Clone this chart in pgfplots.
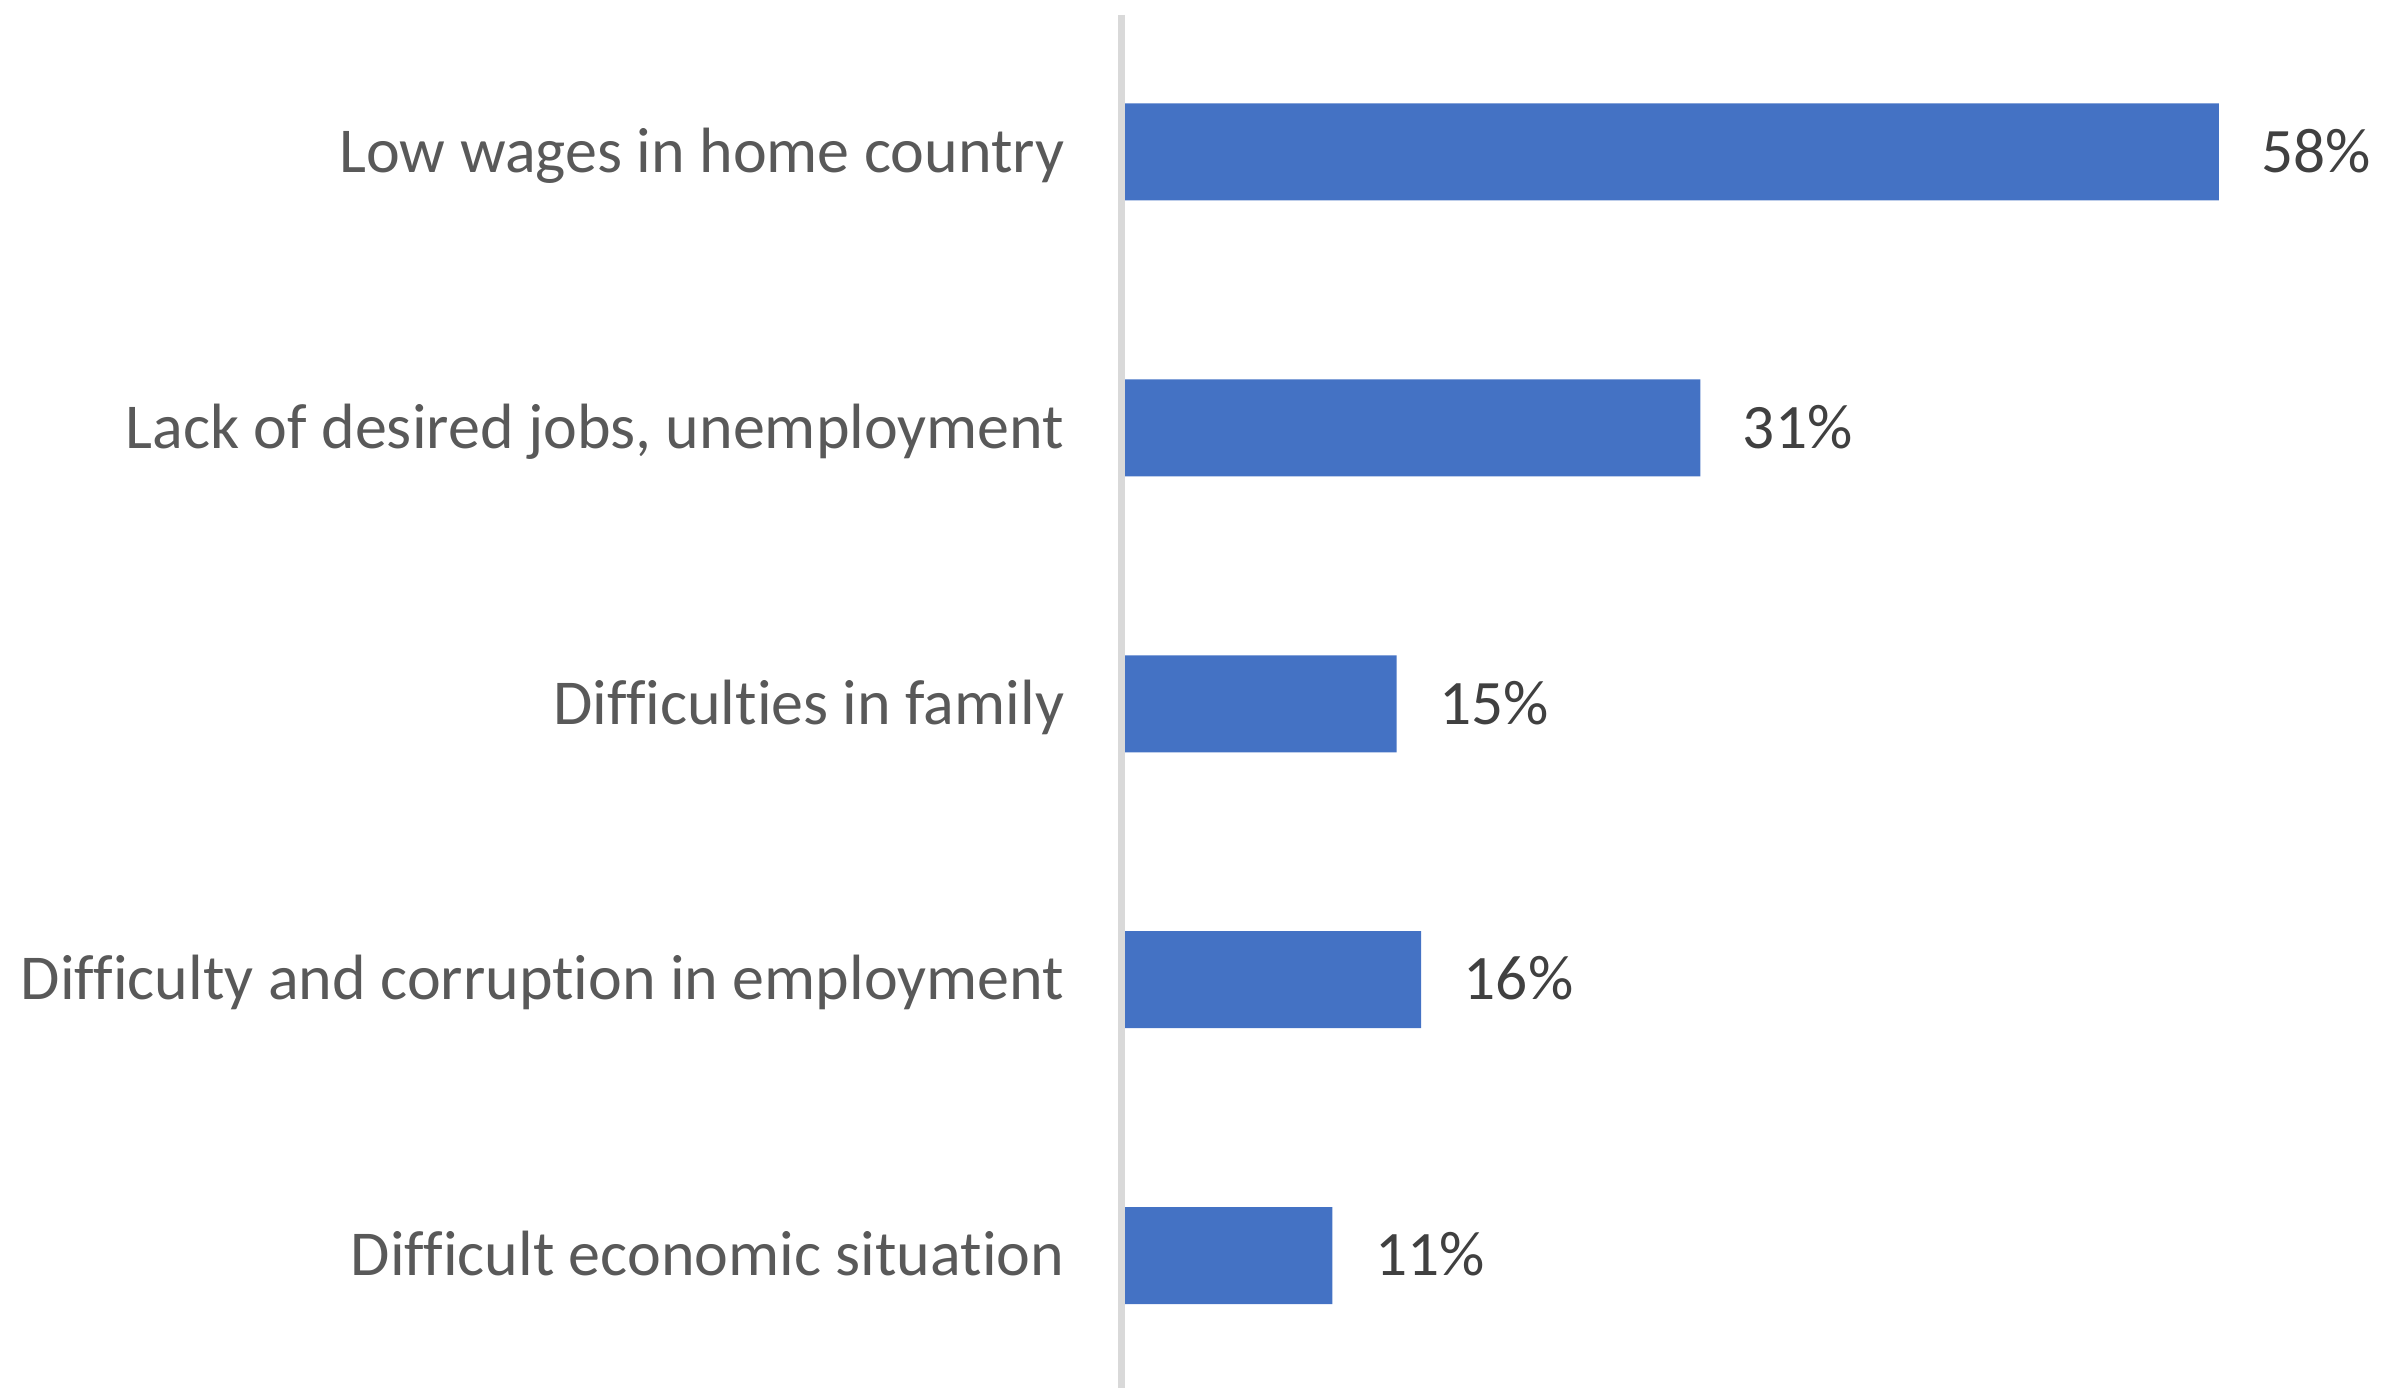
\documentclass[border=0pt]{standalone}
\usepackage{pgfplots}
\pgfplotsset{compat=1.18}
\usepackage{fontspec}
\setmainfont[Ligatures=NoCommon]{Carlito}
\definecolor{barblue}{HTML}{4472C4}
\definecolor{axisgray}{HTML}{D9D9D9}
\definecolor{labgray}{HTML}{595959}
\definecolor{numgray}{HTML}{404040}
\begin{document}
\begin{tikzpicture}
\useasboundingbox (0,0) rectangle (716.7pt,416.4pt);
\begin{axis}[
  at={(337.5pt,0pt)}, anchor=south west,
  scale only axis, width=339.5pt, height=412.2pt,
  xmin=0, xmax=60, ymin=-0.5, ymax=4.48,
  y dir=reverse,
  clip=false,
  axis x line=none,
  axis y line*=left,
  y axis line style={draw=none},
  major tick length=0pt,
  ytick={0,1,2,3,4},
  yticklabels={Low wages in home country, {Lack of desired jobs, unemployment}, Difficulties in family, Difficulty and corruption in employment, Difficult economic situation},
  yticklabel style={font=\fontsize{19.2}{22}\selectfont, text=labgray, inner sep=0pt, anchor=base east, xshift=-18pt, yshift=-6.1pt},
  xbar, bar width=29.1pt,
  point meta=explicit symbolic,
  nodes near coords,
  nodes near coords style={font=\fontsize{19}{22}\selectfont, text=numgray, inner sep=0pt, anchor=base west, xshift=12.6pt, yshift=-6.1pt},
]
\addplot[fill=barblue, draw=none] coordinates {
  (58,0) [58\%]
  (30.5,1) [31\%]
  (14.4,2) [15\%]
  (15.7,3) [16\%]
  (11.0,4) [11\%]
};
\draw[line width=2.1pt, axisgray] ([xshift=-1.05pt]axis cs:0,-0.497) -- ([xshift=-1.05pt]axis cs:0,4.5);
\end{axis}
\end{tikzpicture}
\end{document}
